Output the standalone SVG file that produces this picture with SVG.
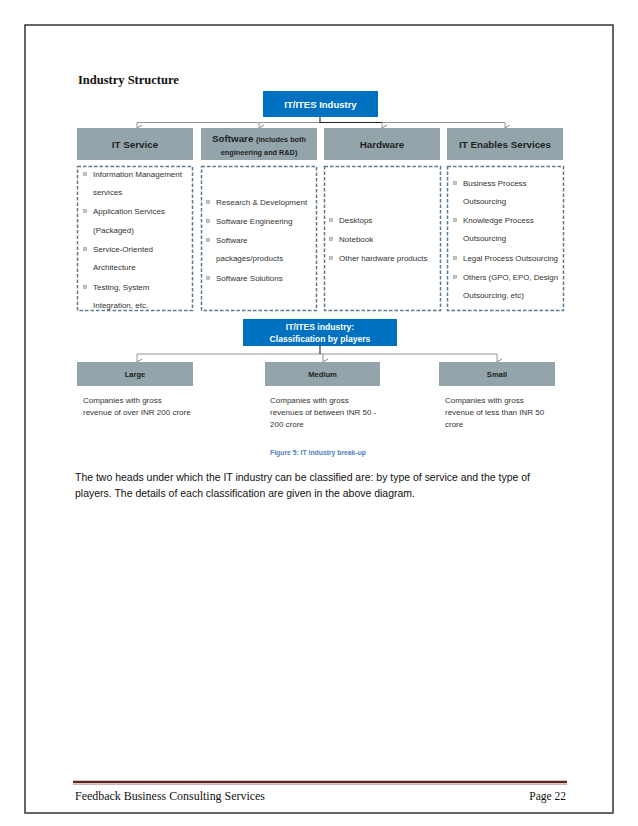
<svg xmlns="http://www.w3.org/2000/svg" width="638" height="826" viewBox="0 0 638 826">
<defs>
<marker id="chev" viewBox="0 0 8 6" refX="4" refY="5.5" markerWidth="8" markerHeight="6" markerUnits="userSpaceOnUse" orient="auto-start-reverse">
<path d="M1,0.5 L4,5.5 L7,0.5" fill="none" stroke="#777" stroke-width="0.9"/>
</marker>
<style>
.pg{fill:#fff;stroke:#333;stroke-width:1.5}
.blue{fill:#0070C0}
.grey{fill:#93A4AB}
.dash{fill:none;stroke:#5F7A8A;stroke-width:1.5;stroke-dasharray:3.5 2}
.wt{font-family:"Liberation Sans",Arial,sans-serif;font-weight:bold;fill:#fff;text-anchor:middle}
.ht{font-family:"Liberation Sans",Arial,sans-serif;font-weight:bold;fill:#1f1f1f;text-anchor:middle}
.it{font-family:"Liberation Sans",Arial,sans-serif;font-size:8px;fill:#333}
.bl{fill:#c8c8c8;stroke:#9a9a9a;stroke-width:0.6}
.con{fill:none;stroke:#8a8a8a;stroke-width:0.9}
.stem{fill:none;stroke:#222;stroke-width:1.1}
</style>
</defs>

<rect class="pg" x="25" y="25" width="588" height="788"/>

<text x="78" y="84" font-family="'Liberation Serif','Times New Roman',serif" font-weight="bold" font-size="12.5" fill="#111">Industry Structure</text>

<g id="connectors">
<line class="con" x1="137" y1="122.5" x2="505" y2="122.5"/>
<path class="stem" d="M320,117 V122.5 H382"/>
<line class="con" x1="137" y1="122.5" x2="137" y2="128" marker-end="url(#chev)"/>
<line class="con" x1="259" y1="122.5" x2="259" y2="128" marker-end="url(#chev)"/>
<line class="con" x1="382" y1="122.5" x2="382" y2="128" marker-end="url(#chev)"/>
<line class="con" x1="505" y1="122.5" x2="505" y2="128" marker-end="url(#chev)"/>
<line class="con" x1="137" y1="354" x2="497" y2="354"/>
<line class="stem" x1="320" y1="346" x2="320" y2="354"/>
<line class="con" x1="137" y1="354" x2="137" y2="362" marker-end="url(#chev)"/>
<line class="con" x1="323" y1="354" x2="323" y2="362" marker-end="url(#chev)"/>
<line class="con" x1="497" y1="354" x2="497" y2="362" marker-end="url(#chev)"/>
</g>

<g id="it-ites">
<rect class="blue" x="263" y="91" width="115" height="26"/>
<text class="wt" x="320.5" y="107.5" font-size="9.5">IT/ITES Industry</text>
</g>

<g id="it-service">
<rect class="grey" x="77" y="128" width="116" height="32"/>
<text class="ht" x="135" y="147.5" font-size="9.8">IT Service</text>
</g>
<g id="software">
<rect class="grey" x="201" y="128" width="116" height="32"/>
<text class="ht" x="259" y="142" font-size="9.8">Software <tspan font-size="7.3">(includes both</tspan></text>
<text class="ht" x="259" y="155" font-size="7.3">engineering and R&amp;D)</text>
</g>
<g id="hardware">
<rect class="grey" x="324" y="128" width="116" height="32"/>
<text class="ht" x="382" y="147.5" font-size="9.8">Hardware</text>
</g>
<g id="ites">
<rect class="grey" x="447" y="128" width="116" height="32"/>
<text class="ht" x="505" y="147.5" font-size="9.8">IT Enables Services</text>
</g>

<g id="it-service-list">
<rect class="dash" x="77.5" y="166.5" width="115" height="144"/>
<rect class="bl" x="83.5" y="172.5" width="3" height="3"/>
<text class="it" x="93" y="177">Information  Management</text>
<text class="it" x="93" y="195">services</text>
<rect class="bl" x="83.5" y="209.5" width="3" height="3"/>
<text class="it" x="93" y="214">Application Services</text>
<text class="it" x="93" y="233">(Packaged)</text>
<rect class="bl" x="83.5" y="247.5" width="3" height="3"/>
<text class="it" x="93" y="252">Service-Oriented</text>
<text class="it" x="93" y="270">Architecture</text>
<rect class="bl" x="83.5" y="285.5" width="3" height="3"/>
<text class="it" x="93" y="290">Testing, System</text>
<text class="it" x="93" y="308">Integration, etc.</text>
</g>

<g id="software-list">
<rect class="dash" x="201.5" y="166.5" width="115" height="144"/>
<rect class="bl" x="206.5" y="200.5" width="3" height="3"/>
<text class="it" x="216" y="205">Research &amp; Development</text>
<rect class="bl" x="206.5" y="219.5" width="3" height="3"/>
<text class="it" x="216" y="224">Software Engineering</text>
<rect class="bl" x="206.5" y="238.5" width="3" height="3"/>
<text class="it" x="216" y="243">Software</text>
<text class="it" x="216" y="261">packages/products</text>
<rect class="bl" x="206.5" y="276.5" width="3" height="3"/>
<text class="it" x="216" y="281">Software Solutions</text>
</g>

<g id="hardware-list">
<rect class="dash" x="324.5" y="166.5" width="116" height="144"/>
<rect class="bl" x="329.5" y="218.5" width="3" height="3"/>
<text class="it" x="339" y="223">Desktops</text>
<rect class="bl" x="329.5" y="237.5" width="3" height="3"/>
<text class="it" x="339" y="242">Notebook</text>
<rect class="bl" x="329.5" y="256.5" width="3" height="3"/>
<text class="it" x="339" y="261">Other hardware products</text>
</g>

<g id="ites-list">
<rect class="dash" x="447.5" y="166.5" width="116" height="144"/>
<rect class="bl" x="453.5" y="181.5" width="3" height="3"/>
<text class="it" x="463" y="186">Business Process</text>
<text class="it" x="463" y="204">Outsourcing</text>
<rect class="bl" x="453.5" y="218.5" width="3" height="3"/>
<text class="it" x="463" y="223">Knowledge Process</text>
<text class="it" x="463" y="241">Outsourcing</text>
<rect class="bl" x="453.5" y="256.5" width="3" height="3"/>
<text class="it" x="463" y="261" textLength="95" lengthAdjust="spacingAndGlyphs">Legal Process Outsourcing</text>
<rect class="bl" x="453.5" y="275.5" width="3" height="3"/>
<text class="it" x="463" y="280" textLength="95" lengthAdjust="spacingAndGlyphs">Others (GPO, EPO, Design</text>
<text class="it" x="463" y="298">Outsourcing, etc)</text>
</g>

<g id="classification">
<rect class="blue" x="243" y="319" width="154" height="27"/>
<text class="wt" x="320" y="330" font-size="8.6">IT/ITES industry:</text>
<text class="wt" x="320" y="342" font-size="8.6">Classification by players</text>
</g>

<g id="large">
<rect class="grey" x="77" y="362" width="116" height="24"/>
<text class="ht" x="135" y="377" font-size="7.6">Large</text>
<text class="it" x="83" y="403">Companies with gross</text>
<text class="it" x="83" y="415">revenue of over INR 200 crore</text>
</g>
<g id="medium">
<rect class="grey" x="265" y="362" width="115" height="24"/>
<text class="ht" x="322.5" y="377" font-size="7.6">Medium</text>
<text class="it" x="270" y="403">Companies with gross</text>
<text class="it" x="270" y="415">revenues of between INR 50 -</text>
<text class="it" x="270" y="427">200 crore</text>
</g>
<g id="small">
<rect class="grey" x="439" y="362" width="116" height="24"/>
<text class="ht" x="497" y="377" font-size="7.6">Small</text>
<text class="it" x="445" y="403">Companies with gross</text>
<text class="it" x="445" y="415">revenue of less than INR 50</text>
<text class="it" x="445" y="427">crore</text>
</g>

<text x="318" y="455" text-anchor="middle" font-family="'Liberation Sans',Arial,sans-serif" font-weight="bold" font-size="6.8" fill="#4F81BD">Figure 5: IT industry break-up</text>

<text x="75" y="481" font-family="'Liberation Sans',Arial,sans-serif" font-size="10.8" fill="#111" textLength="455" lengthAdjust="spacingAndGlyphs">The two heads under which the IT industry can be classified are: by type of service and the type of</text>
<text x="75" y="497" font-family="'Liberation Sans',Arial,sans-serif" font-size="10.8" fill="#111" textLength="340" lengthAdjust="spacingAndGlyphs">players. The details of each classification are given in the above diagram.</text>

<line x1="73" y1="782" x2="567" y2="782" stroke="#622423" stroke-width="2.5"/>
<line x1="73" y1="784.5" x2="567" y2="784.5" stroke="#c09090" stroke-width="0.7"/>
<text x="75" y="800" font-family="'Liberation Serif','Times New Roman',serif" font-size="11.5" fill="#111" textLength="190" lengthAdjust="spacingAndGlyphs">Feedback Business Consulting Services</text>
<text x="566" y="800" text-anchor="end" font-family="'Liberation Serif','Times New Roman',serif" font-size="11.5" fill="#111">Page 22</text>
</svg>
